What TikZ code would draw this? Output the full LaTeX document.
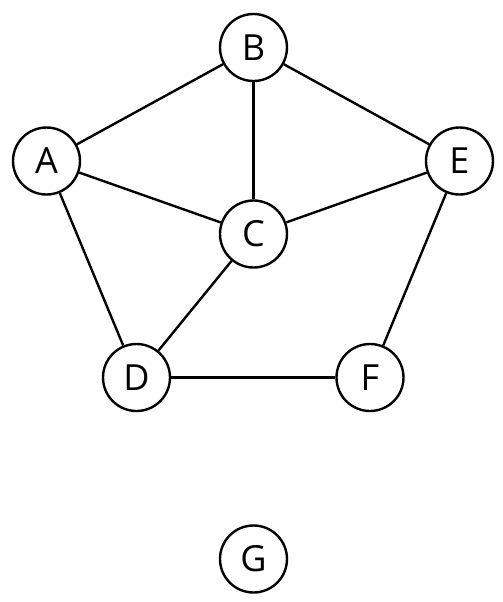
\documentclass[tikz,border=0pt]{standalone}
\usepackage{fontspec}
\setmainfont{Open Sans}
\usepackage{tikz}
\usetikzlibrary{positioning}

\begin{document}
\begin{tikzpicture}[
  x=0.5pt, y=-0.5pt,
  vertex/.style={circle, draw=black, line width=1.2pt, fill=white,
                 minimum size=33.5pt, inner sep=0pt,
                 font=\fontsize{18}{21}\selectfont},
  edge/.style={line width=1.2pt, color=black}
]
  \useasboundingbox (0,0) rectangle (503,602);

  \node[vertex] (b) at (253.5,47.5)  {B};
  \node[vertex] (a) at (46.5,161)    {A};
  \node[vertex] (e) at (459.5,161)   {E};
  \node[vertex] (c) at (253.5,234)   {C};
  \node[vertex] (d) at (136.5,377.5) {D};
  \node[vertex] (f) at (370,377.5)   {F};
  \node[vertex] (g) at (253.5,559)   {G};

  \draw[edge] (a) -- (b);
  \draw[edge] (b) -- (e);
  \draw[edge] (b) -- (c);
  \draw[edge] (a) -- (c);
  \draw[edge] (c) -- (e);
  \draw[edge] (a) -- (d);
  \draw[edge] (c) -- (d);
  \draw[edge] (e) -- (f);
  \draw[edge] (d) -- (f);
\end{tikzpicture}
\end{document}
